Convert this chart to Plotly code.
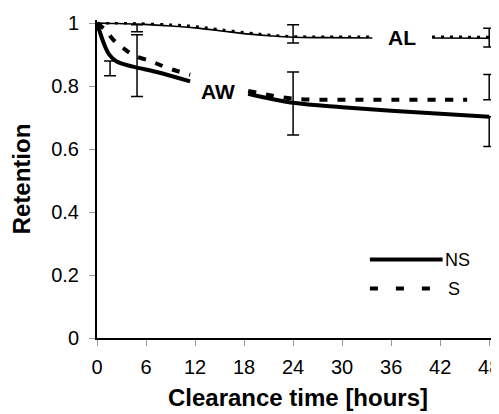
import plotly.graph_objects as go

# ---- data ----
al_ns_x = [0, 2, 4.9, 9, 12, 15, 18.7, 21, 24, 28, 33.7, None, 41, 48]
al_ns_y = [1.0, 0.999, 0.997, 0.991, 0.985, 0.976, 0.965, 0.96, 0.955, 0.954, 0.953, None, 0.953, 0.952]
al_s_x = [0, 2, 4.9, 9, 12, 15, 18.7, 21, 24, 28, 33.7, None, 41, 48]
al_s_y = [1.0, 1.0, 0.999, 0.995, 0.99, 0.98, 0.969, 0.963, 0.958, 0.957, 0.957, None, 0.957, 0.956]
aw_ns_x = [0, 0.5, 1, 1.5, 2.4, 4.4, 7.3, 11.4, None, 18.5, 24, 30, 36, 42, 48]
aw_ns_y = [1.0, 0.96, 0.925, 0.9, 0.878, 0.862, 0.845, 0.815, None, 0.776, 0.747, 0.733, 0.722, 0.712, 0.703]
aw_s_x = [0, 1, 2, 3.2, 4.4, 6.7, 8.7, 11.4, None, 18.5, 24, 30, 36, 42, 45.3]
aw_s_y = [1.0, 0.979, 0.947, 0.921, 0.899, 0.878, 0.857, 0.836, None, 0.785, 0.76, 0.757, 0.757, 0.757, 0.757]

al_err_x = [4.9, 24, 48]
al_err_y = [0.984, 0.966, 0.954]
al_err_e = [0.011, 0.029, 0.03]

aw_err_x = [1.6, 4.9, 24, 48, 48]
aw_err_y = [0.88, 0.865, 0.745, 0.703, 0.757]
aw_err_plus = [0.0, 0.098, 0.10, 0.0, 0.08]
aw_err_minus = [0.047, 0.098, 0.10, 0.095, 0.0]

x_ticks = [0, 6, 12, 18, 24, 30, 36, 42, 48]
y_ticks = [0, 0.2, 0.4, 0.6, 0.8, 1]
y_tick_text = ["0", "0.2", "0.4", "0.6", "0.8", "1"]

FONT = "Liberation Sans, Arial, sans-serif"

fig = go.Figure()
fig.add_trace(go.Scatter(x=al_ns_x, y=al_ns_y, mode="lines", line=dict(color="black", width=1.6, shape="spline"), showlegend=False))
fig.add_trace(go.Scatter(x=al_s_x, y=al_s_y, mode="lines", line=dict(color="black", width=2.5, dash="3px,6px", shape="spline"), showlegend=False))
fig.add_trace(go.Scatter(x=aw_ns_x, y=aw_ns_y, mode="lines", line=dict(color="black", width=4, shape="spline"), showlegend=False))
fig.add_trace(go.Scatter(x=aw_s_x, y=aw_s_y, mode="lines", line=dict(color="black", width=4, dash="8px,10px", shape="spline"), showlegend=False))

fig.add_trace(go.Scatter(x=al_err_x, y=al_err_y, mode="markers", marker=dict(size=0.1, color="rgba(0,0,0,0)"),
                         error_y=dict(type="data", array=al_err_e, color="black", thickness=1.5, width=6), showlegend=False))
fig.add_trace(go.Scatter(x=aw_err_x, y=aw_err_y, mode="markers", marker=dict(size=0.1, color="rgba(0,0,0,0)"),
                         error_y=dict(type="data", symmetric=False, array=aw_err_plus, arrayminus=aw_err_minus,
                                      color="black", thickness=1.5, width=6), showlegend=False))

# labels
fig.add_annotation(x=14.8, y=0.783, text="<b>AW</b>", showarrow=False, font=dict(family=FONT, size=21, color="black"))
fig.add_annotation(x=37.3, y=0.953, text="<b>AL</b>", showarrow=False, font=dict(family=FONT, size=21, color="black"))

# manual legend
fig.add_shape(type="line", xref="x", yref="y", x0=33.4, x1=42.3, y0=0.249, y1=0.249, line=dict(color="black", width=4))
fig.add_shape(type="line", xref="x", yref="y", x0=33.4, x1=41.6, y0=0.157, y1=0.157, line=dict(color="black", width=4, dash="8px,18px"))
fig.add_annotation(x=42.4, y=0.249, text="NS", showarrow=False, xanchor="left", font=dict(family=FONT, size=18, color="black"))
fig.add_annotation(x=42.4, y=0.157, text="S", showarrow=False, xanchor="left", xshift=3, font=dict(family=FONT, size=18, color="black"))

# page body has an 8px margin, so the figure is sized to fit the remaining window
fig.update_layout(
    width=491, height=406,
    margin=dict(l=89, r=0, t=12, b=76),
    paper_bgcolor="white", plot_bgcolor="white",
    font=dict(family=FONT, color="black"),
    xaxis=dict(range=[0, 49.2], tickvals=x_ticks, ticktext=[str(v) for v in x_ticks], automargin=False,
               ticklabeloverflow="allow",
               showgrid=False, zeroline=False, showline=True, linecolor="black", linewidth=2,
               ticks="outside", ticklen=6, tickcolor="#999", tickfont=dict(size=20, family=FONT),
               ticklabelstandoff=4,
               title=dict(text="<b>Clearance time [hours]</b>", font=dict(size=24, family=FONT), standoff=12)),
    yaxis=dict(range=[0, 1.01], tickvals=y_ticks, ticktext=y_tick_text, automargin=False,
               showgrid=False, zeroline=False, showline=True, linecolor="black", linewidth=2,
               ticks="outside", ticklen=6, tickcolor="#999", tickfont=dict(size=20, family=FONT),
               ticklabelstandoff=6,
               title=dict(text="<b>Retention</b>", font=dict(size=24, family=FONT), standoff=18)),
)

fig.write_html("out.html")
